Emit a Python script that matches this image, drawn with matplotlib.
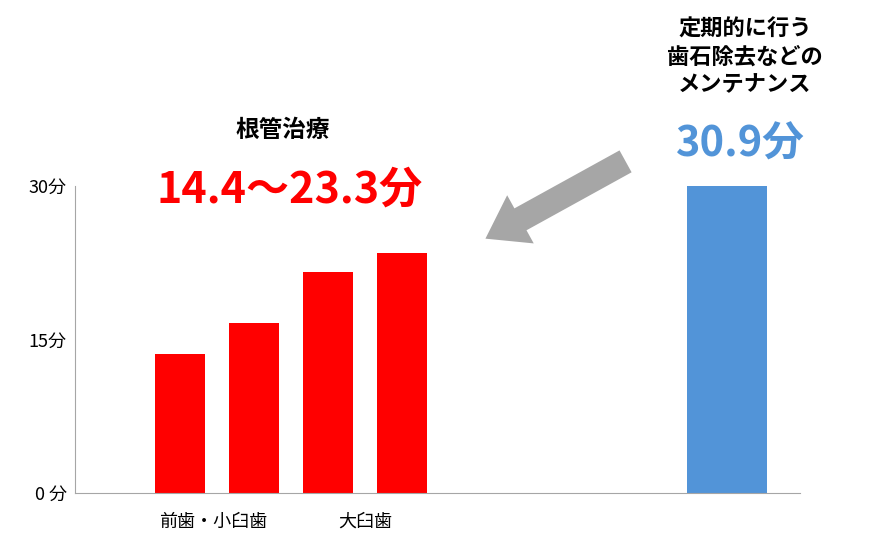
import matplotlib
matplotlib.use("Agg")
import matplotlib.pyplot as plt
from matplotlib.patches import FancyArrowPatch

plt.rcParams['font.family'] = ['Noto Sans CJK JP', 'DejaVu Sans']

red_pos = [1, 2, 3, 4]
red_vals = [13.6, 16.6, 21.6, 23.5]
blue_pos = [8.39]
blue_vals = [30.2]
yticks = [0, 15, 30]
ytick_labels = ['0 分', '15分', '30分']
group_labels = ['前歯・小臼歯', '大臼歯']
group_pos = [1.45, 3.5]

W, H = 869, 544
fig = plt.figure(figsize=(W/100, H/100), dpi=100)
ax = fig.add_axes([75/W, 1-493/H, 725/W, 307/H])
ax.bar(red_pos, red_vals, width=0.68, color='#FF0000')
ax.bar(blue_pos, blue_vals, width=1.08, color='#5294D8')
ax.set_xlim(-0.42, 9.38)
ax.set_ylim(0, 30)
ax.set_yticks(yticks)
ax.set_yticklabels(ytick_labels, fontsize=13)
ax.set_xticks([])
ax.tick_params(axis='y', length=0, pad=6)
for s in ['top', 'right']:
    ax.spines[s].set_visible(False)
for s in ['left', 'bottom']:
    ax.spines[s].set_color('#A6A6A6')
for p, l in zip(group_pos, group_labels):
    ax.text(p, -2.8, l, ha='center', va='center', fontsize=13, clip_on=False)

def fy(y):
    return 1 - y/H

fig.text(283/W, fy(130), '根管治療', ha='center', va='center', fontsize=17, fontweight='bold')
fig.text(290/W, fy(190), '14.4～23.3分', ha='center', va='center', fontsize=31, fontweight='bold', color='#FF0000')
fig.text(745/W, fy(57), '定期的に行う\n歯石除去などの\nメンテナンス', ha='center', va='center',
         fontsize=16, fontweight='bold', linespacing=1.25)
fig.text(740/W, fy(145), '30.9分', ha='center', va='center', fontsize=30, fontweight='bold', color='#5294D8')

arr = FancyArrowPatch((628/W, fy(160)), (483/W, fy(240)), transform=fig.transFigure,
                      arrowstyle='simple,head_width=2.2,head_length=1.6,tail_width=1.0',
                      mutation_scale=18, color='#A6A6A6', lw=0)
fig.patches.append(arr)

fig.savefig('out.png', dpi=100)
